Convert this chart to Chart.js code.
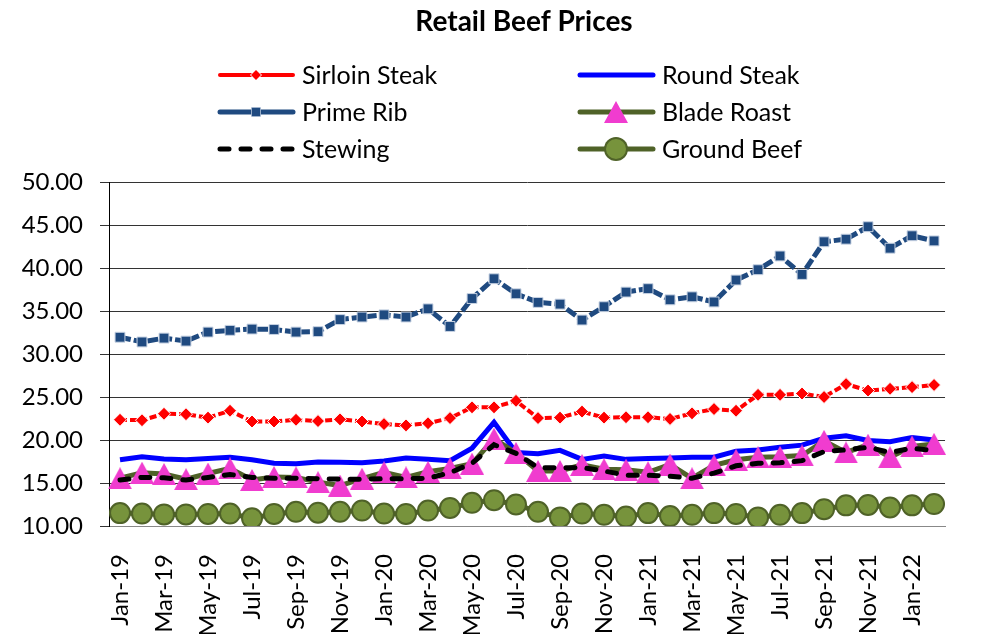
<!DOCTYPE html>
<html>
<head>
<meta charset="utf-8">
<script src="https://cdn.jsdelivr.net/npm/chart.js@4/dist/chart.umd.min.js"></script>
<style>
  html, body { margin: 0; padding: 0; background: #fff; }
  #wrap { width: 983px; height: 634px; }
</style>
</head>
<body>
<div id="wrap"><canvas id="beef-chart" width="983" height="634"></canvas></div>
<script>
const chart_title = "Retail Beef Prices"

const month_labels = [
    "Jan-19","Feb-19","Mar-19","Apr-19","May-19","Jun-19","Jul-19","Aug-19","Sep-19","Oct-19","Nov-19","Dec-19",
    "Jan-20","Feb-20","Mar-20","Apr-20","May-20","Jun-20","Jul-20","Aug-20","Sep-20","Oct-20","Nov-20","Dec-20",
    "Jan-21","Feb-21","Mar-21","Apr-21","May-21","Jun-21","Jul-21","Aug-21","Sep-21","Oct-21","Nov-21","Dec-21",
    "Jan-22","Feb-22"
]

const series_names = ["Sirloin Steak", "Round Steak", "Prime Rib", "Blade Roast", "Stewing", "Ground Beef"]

const sirloin_steak = [22.35,22.3,23.05,23.0,22.6,23.4,22.15,22.15,22.35,22.2,22.4,22.15,21.85,21.7,21.95,22.55,23.8,23.8,24.55,22.55,22.6,23.3,22.6,22.65,22.65,22.45,23.1,23.6,23.4,25.25,25.25,25.4,25.0,26.5,25.75,25.95,26.15,26.4]
const round_steak = [17.7,18.05,17.8,17.7,17.85,18.0,17.7,17.3,17.25,17.45,17.4,17.35,17.55,17.9,17.75,17.6,19.05,22.05,18.55,18.4,18.8,17.75,18.15,17.75,17.85,17.9,18.0,18.0,18.7,18.85,19.15,19.4,20.2,20.5,19.95,19.8,20.3,20.0]
const prime_rib = [31.95,31.4,31.85,31.5,32.55,32.75,32.9,32.85,32.55,32.6,34.0,34.3,34.55,34.3,35.25,33.2,36.45,38.75,37.0,36.0,35.8,33.95,35.5,37.2,37.6,36.3,36.65,36.05,38.6,39.8,41.4,39.25,43.05,43.35,44.8,42.3,43.75,43.15]
const blade_roast = [15.55,16.2,16.05,15.45,16.1,16.7,15.35,15.7,15.65,15.1,14.7,15.5,16.25,15.65,16.3,16.7,17.25,20.15,18.5,16.4,16.4,17.1,16.6,16.55,16.25,17.15,15.55,17.05,17.7,18.0,18.05,18.2,19.9,18.55,19.45,18.0,19.25,19.55]
const stewing = [15.35,15.65,15.6,15.35,15.65,16.0,15.65,15.55,15.55,15.5,15.45,15.45,15.5,15.5,15.55,16.2,17.3,19.45,18.45,16.8,16.75,16.8,16.4,15.9,15.9,15.8,15.55,16.15,17.0,17.3,17.35,17.6,18.65,18.85,19.15,18.55,19.05,18.75]
const ground_beef = [11.5,11.45,11.35,11.35,11.4,11.45,10.9,11.4,11.65,11.55,11.65,11.8,11.45,11.4,11.8,12.1,12.7,13.0,12.5,11.65,11.0,11.45,11.3,11.1,11.5,11.15,11.3,11.5,11.4,11.0,11.3,11.5,11.95,12.4,12.45,12.15,12.4,12.55]

const y_min = 10
const y_max = 50
const y_step = 5

// legend layout (two columns, three rows like the excel one)
const legend_cols = [218, 578]
const legend_rows = [75, 112, 149]

// excel centres the triangle marker on its box, so build it as an image
function makeTriangle(w, h, color){
    const c = document.createElement("canvas")
    c.width = w
    c.height = h
    const t = c.getContext("2d")
    t.fillStyle = color
    t.beginPath()
    t.moveTo(w / 2, 0)
    t.lineTo(w, h)
    t.lineTo(0, h)
    t.closePath()
    t.fill()
    return c
}
const pink_triangle = makeTriangle(24, 22, "#F03CCF")

function drawMarker(ctx, style, x, y, r){
    if (style instanceof HTMLCanvasElement){
        ctx.drawImage(style, x - style.width / 2, y - style.height / 2)
        return
    }
    ctx.beginPath()
    if (style == "rectRot"){
        ctx.moveTo(x, y - r); ctx.lineTo(x + r, y); ctx.lineTo(x, y + r); ctx.lineTo(x - r, y)
    } else if (style == "rect"){
        const s = r * Math.SQRT1_2
        ctx.rect(x - s, y - s, 2 * s, 2 * s)
    } else {
        ctx.arc(x, y, r, 0, Math.PI * 2)
    }
    ctx.closePath()
    ctx.fill()
}

const titleLegendPlugin = {
    id: "titleLegend",
    afterDraw(chart){
        const ctx = chart.ctx
        ctx.save()
        ctx.fillStyle = "#000"
        ctx.font = "bold 28px Lato"
        ctx.textAlign = "center"
        ctx.textBaseline = "middle"
        ctx.fillText(chart_title, 524, 22)

        chart.data.datasets.forEach(function(ds, i){
            const x = legend_cols[i % 2]
            const y = legend_rows[Math.floor(i / 2)]
            ctx.beginPath()
            ctx.strokeStyle = ds.borderColor
            ctx.lineWidth = ds.borderWidth
            ctx.lineCap = "round"
            ctx.setLineDash(ds.legendDash || [])
            ctx.moveTo(x + 2, y)
            ctx.lineTo(x + 75, y)
            ctx.stroke()
            ctx.setLineDash([])
            if (ds.pointRadius > 0){
                if (ds.pointBorderWidth > 0){
                    ctx.fillStyle = ds.pointBorderColor
                    drawMarker(ctx, ds.pointStyle, x + 38, y, ds.legendRadius + ds.pointBorderWidth)
                }
                ctx.fillStyle = ds.pointBackgroundColor
                drawMarker(ctx, ds.pointStyle, x + 38, y, ds.legendRadius)
            }
            ctx.fillStyle = "#000"
            ctx.font = "25px Lato"
            ctx.textAlign = "left"
            ctx.fillText(ds.label, x + 84, y + 1)
        })
        ctx.restore()
    }
}

const canvas = document.getElementById("beef-chart")

new Chart(canvas, {
    type: "line",
    data: {
        labels: month_labels,
        datasets: [
            {
                label: series_names[0],
                data: sirloin_steak,
                borderColor: "#FF0000",
                borderWidth: 4,
                borderDash: [7, 3],
                pointStyle: "rectRot",
                pointRadius: 6.5,
                pointBackgroundColor: "#FF0000",
                pointBorderColor: "#FFFFFF",
                pointBorderWidth: 1,
                legendRadius: 5,
                order: 5
            },
            {
                label: series_names[1],
                data: round_steak,
                borderColor: "#0000FF",
                borderWidth: 5,
                pointRadius: 0,
                order: 4
            },
            {
                label: series_names[2],
                data: prime_rib,
                borderColor: "#1F4A80",
                borderWidth: 5,
                borderDash: [11, 3],
                pointStyle: "rect",
                pointRadius: 7,
                pointBackgroundColor: "#1F4A80",
                pointBorderColor: "#C8D3E3",
                pointBorderWidth: 1,
                legendRadius: 6,
                order: 3
            },
            {
                label: series_names[3],
                data: blade_roast,
                borderColor: "#4F6228",
                borderWidth: 5,
                pointStyle: pink_triangle,
                pointRadius: 12,
                pointBackgroundColor: "#F03CCF",
                pointBorderColor: "#F03CCF",
                pointBorderWidth: 0,
                legendRadius: 12,
                order: 2
            },
            {
                label: series_names[4],
                data: stewing,
                borderColor: "#000000",
                borderWidth: 5,
                borderDash: [9, 12],
                borderCapStyle: "round",
                legendDash: [9, 12],
                pointRadius: 0,
                order: 1
            },
            {
                label: series_names[5],
                data: ground_beef,
                borderColor: "#4F6228",
                borderWidth: 5,
                pointStyle: "circle",
                pointRadius: 10,
                pointBackgroundColor: "#77933C",
                pointBorderColor: "#4F6228",
                pointBorderWidth: 2,
                legendRadius: 10,
                order: 0
            }
        ]
    },
    options: {
        responsive: false,
        animation: false,
        layout: {
            padding: { top: 182, right: 8, left: 0, bottom: 0 }
        },
        elements: {
            line: { tension: 0 }
        },
        plugins: {
            legend: { display: false },
            title: { display: false },
            tooltip: { enabled: false }
        },
        scales: {
            x: {
                offset: true,
                afterFit: function(scale){ scale.height = 108 },
                grid: { display: false },
                border: { display: true, color: "#888", width: 1 },
                ticks: {
                    autoSkip: false,
                    maxRotation: 90,
                    minRotation: 90,
                    padding: 20,
                    color: "#000",
                    font: { family: "Lato", size: 24 },
                    callback: function(value, index){
                        return index % 2 == 0 ? month_labels[index] : ""
                    }
                }
            },
            y: {
                min: y_min,
                max: y_max,
                afterFit: function(scale){ scale.width = 109 },
                grid: {
                    color: function(c){ return c.tick && c.tick.value == y_min ? "#888" : "#333" },
                    lineWidth: 1,
                    tickLength: 9,
                    tickColor: "#333"
                },
                border: { display: true, color: "#000", width: 1 },
                ticks: {
                    stepSize: y_step,
                    padding: 17,
                    color: "#000",
                    font: { family: "Lato", size: 24 },
                    callback: function(value){ return value.toFixed(2) }
                }
            }
        }
    },
    plugins: [titleLegendPlugin]
});
</script>
</body>
</html>
